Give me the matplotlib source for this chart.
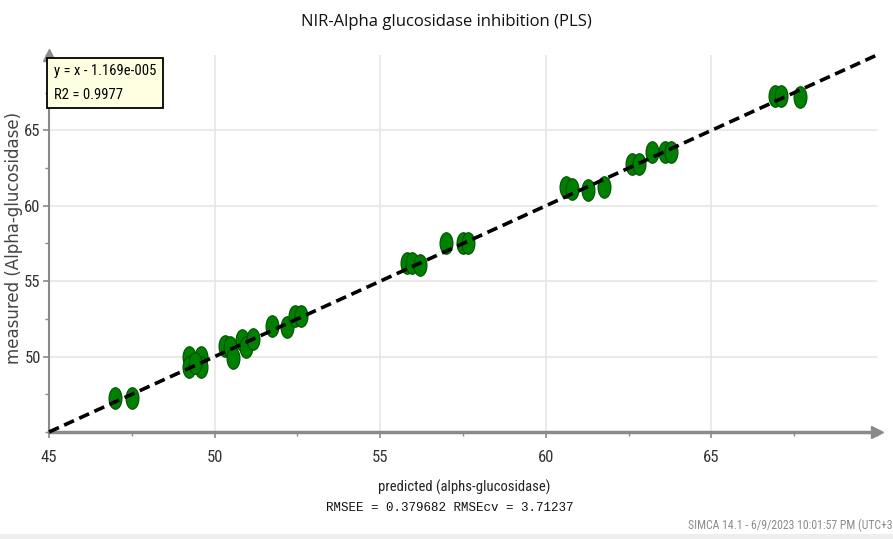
import matplotlib.pyplot as plt
import numpy as np
from matplotlib.markers import MarkerStyle
from matplotlib.path import Path
from matplotlib.transforms import Affine2D
from matplotlib.ticker import MultipleLocator

# predicted vs measured alpha-glucosidase inhibition, one entry per observation
predicted = [46.99, 47.50, 49.22, 49.22, 49.60, 49.60, 49.40,
             50.30, 50.45, 50.57, 50.84, 50.95, 51.17, 51.72, 52.20, 52.44, 52.62,
             55.81, 55.96, 56.20, 56.99, 57.50, 57.65,
             60.60, 60.78, 61.27, 61.75, 62.60, 62.80, 63.22, 63.61, 63.77,
             66.93, 67.11, 67.68]
measured = [47.25, 47.25, 49.97, 49.30, 49.97, 49.30, 49.60,
            50.70, 50.63, 49.90, 51.10, 50.65, 51.20, 52.00, 51.95, 52.68, 52.68,
            56.19, 56.19, 56.06, 57.52, 57.52, 57.52,
            61.23, 61.09, 61.03, 61.23, 62.80, 62.80, 63.60, 63.60, 63.60,
            67.25, 67.25, 67.19]

fit_slope = 1.0
fit_intercept = -1.169e-005
r2 = 0.9977
rmsee = 0.379682
rmsecv = 3.71237

X_RANGE = (45, 70)
Y_RANGE = (45, 70)

AXIS_GREY = "#8a8a8a"
GRID_GREY = "#e6e6e6"
POINT_FACE = "#008000"
POINT_EDGE = "#005000"
NARROW = ["Roboto Condensed", "Liberation Sans Narrow", "Roboto", "DejaVu Sans"]

fig = plt.figure(figsize=(8.93, 5.39), dpi=100)
ax = fig.add_axes([49 / 893, 1 - 432 / 539, (877 - 49) / 893, (432 - 55) / 539])

ax.set_xlim(*X_RANGE)
ax.set_ylim(*Y_RANGE)

# upright ellipse marker, like SIMCA's point symbol
ellipse = Path.unit_circle().transformed(Affine2D().scale(0.6, 1.0))
ax.plot(predicted, measured, linestyle="none", marker=MarkerStyle(ellipse),
        markersize=15.5, markerfacecolor=POINT_FACE, markeredgecolor=POINT_EDGE,
        markeredgewidth=0.8, zorder=3)

xs = np.array(X_RANGE, dtype=float)
ax.plot(xs, fit_slope * xs + fit_intercept, color="black", linestyle=(0, (3, 1.6)),
        linewidth=2.6, zorder=4, clip_on=False)

ax.xaxis.set_major_locator(MultipleLocator(5))
ax.yaxis.set_major_locator(MultipleLocator(5))
ax.xaxis.set_minor_locator(MultipleLocator(2.5))
ax.yaxis.set_minor_locator(MultipleLocator(2.5))
ax.grid(which="major", color=GRID_GREY, linewidth=1.2, zorder=0)

for side in ("top", "right"):
    ax.spines[side].set_visible(False)
ax.spines["left"].set_color(AXIS_GREY)
ax.spines["left"].set_linewidth(1.5)
ax.spines["bottom"].set_color(AXIS_GREY)
ax.spines["bottom"].set_linewidth(2.5)

# arrow heads at the end of both axes
ax.plot(1.0, 0, ">", color=AXIS_GREY, markersize=9, transform=ax.transAxes, clip_on=False)
ax.plot(0, 1.0, "^", color=AXIS_GREY, markersize=9, transform=ax.transAxes, clip_on=False)

ax.tick_params(which="major", length=4, width=1.2, color=AXIS_GREY, labelcolor="#333333",
               labelsize=12)
ax.tick_params(which="minor", length=3, width=1.0, color=AXIS_GREY)
ax.tick_params(axis="x", pad=9)
ax.tick_params(axis="y", pad=2)
ax.set_yticks([50, 55, 60, 65])
ax.set_xticks([45, 50, 55, 60, 65])
for lab in ax.get_xticklabels() + ax.get_yticklabels():
    lab.set_family(NARROW)

fig.text(0.5, 1 - 22 / 539, "NIR-Alpha glucosidase inhibition (PLS)", ha="center", va="center",
         fontsize=12, family="Open Sans", color="#111111")
fig.text(14 / 893, 1 - 238 / 539, "measured (Alpha-glucosidase)", rotation=90, ha="center",
         va="center", fontsize=12, color="#444444")
fig.text(464 / 893, 1 - 487 / 539, "predicted (alphs-glucosidase)", ha="center", va="center",
         fontsize=10.5, family=NARROW, color="#222222")
fig.text(450 / 893, 1 - 508 / 539, f"RMSEE = {rmsee:g} RMSEcv = {rmsecv:g}", ha="center",
         va="center", fontsize=9, family="Liberation Mono", color="#111111")
fig.text(892 / 893, 1 - 525 / 539, "SIMCA 14.1 - 6/9/2023 10:01:57 PM (UTC+3", ha="right",
         va="center", fontsize=8.5, family=NARROW, color="#8c8c8c")

# fit summary box in the upper-left corner
ax.text(0.006, 0.975, f"y = x - {abs(fit_intercept):.3e}".replace("e-05", "e-005") + f"\nR2 = {r2}",
        transform=ax.transAxes, ha="left", va="top", fontsize=10.5, family=NARROW,
        linespacing=1.85, zorder=6,
        bbox=dict(boxstyle="square,pad=0.45", facecolor="#ffffe1", edgecolor="black",
                  linewidth=1.3))

# thin grey strip along the bottom edge
fig.patches.append(plt.Rectangle((0, 0), 1, 5 / 539, transform=fig.transFigure,
                                 facecolor="#eeeeee", edgecolor="none"))

fig.savefig("out.png", dpi=100)
